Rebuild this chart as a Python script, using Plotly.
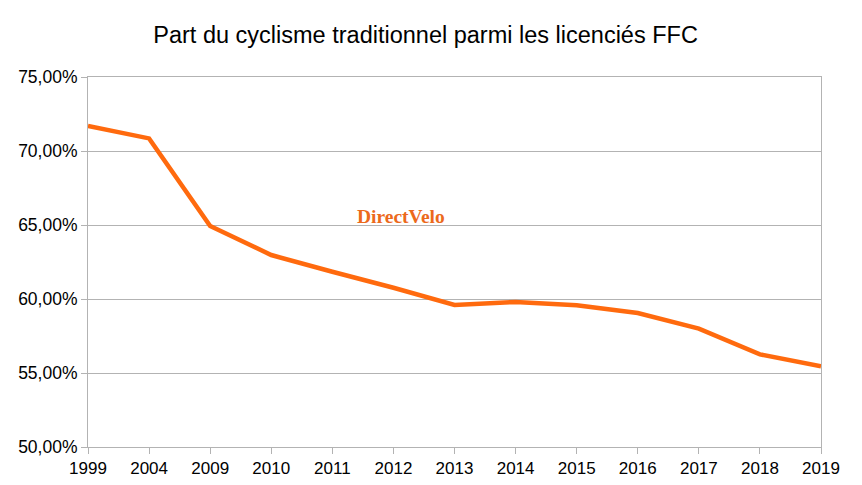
import plotly.graph_objects as go

years = ["1999", "2004", "2009", "2010", "2011", "2012", "2013",
         "2014", "2015", "2016", "2017", "2018", "2019"]
share = [0.7170, 0.7085, 0.6493, 0.6297, 0.6184, 0.6076, 0.5960,
         0.5980, 0.5957, 0.5905, 0.5800, 0.5626, 0.5545]

fig = go.Figure()
fig.add_trace(go.Scatter(
    x=years, y=share, mode="lines",
    line=dict(color="#ff6a0e", width=4.5),
    showlegend=False, hoverinfo="x+y",
))

fig.update_layout(
    width=854, height=477,
    margin=dict(l=80, r=41, t=69, b=38, autoexpand=False),
    paper_bgcolor="white", plot_bgcolor="white",
    separators=", ",
    font=dict(family="Liberation Sans, Arial, sans-serif", color="#000000", size=17),
    title=dict(text="Part du cyclisme traditionnel parmi les licenciés FFC",
               x=0.489, xanchor="center", y=0.943, yanchor="middle",
               font=dict(size=23.5, family="Liberation Sans, Arial, sans-serif", color="#000")),
    xaxis=dict(type="category", range=[0, 12], showgrid=False, automargin=False,
               showline=True, linecolor="#b3b3b3", linewidth=1, mirror=True,
               ticks="outside", ticklen=6, tickcolor="#b3b3b3",
               tickfont=dict(size=17), fixedrange=True),
    yaxis=dict(range=[0.5, 0.75], dtick=0.05, tickformat=".2%", automargin=False,
               showgrid=True, gridcolor="#b3b3b3", gridwidth=1,
               showline=True, linecolor="#b3b3b3", linewidth=1, mirror=True,
               ticks="outside", ticklen=6, tickcolor="#b3b3b3",
               tickfont=dict(size=17.5), zeroline=False, fixedrange=True),
    annotations=[dict(text="<b>DirectVelo</b>", xref="paper", yref="paper",
                      x=0.427, y=0.622, xanchor="center", yanchor="middle",
                      showarrow=False,
                      font=dict(family="Liberation Serif, Times New Roman, serif",
                                size=19.5, color="#ec6a1c"))],
)

fig.write_html("out.html")
